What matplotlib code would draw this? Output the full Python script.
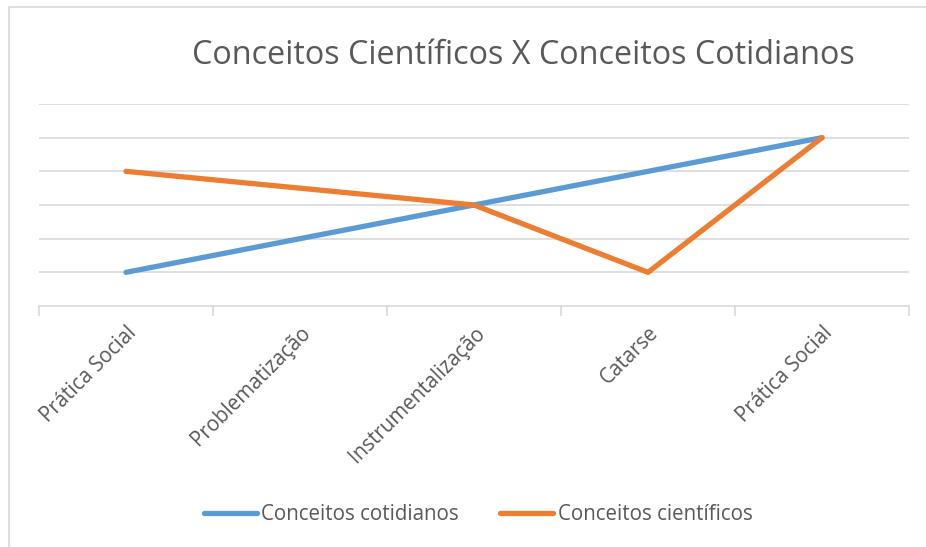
import matplotlib
matplotlib.use("Agg")
import matplotlib.pyplot as plt
from matplotlib.patches import Rectangle

categories = ["Prática Social", "Problematização", "Instrumentalização", "Catarse", "Prática Social"]
cotidianos = [1, 2, 3, 4, 5]
cientificos = [4, 3.5, 3, 1, 5]
series_names = ["Conceitos cotidianos", "Conceitos científicos"]
title = "Conceitos Científicos X Conceitos Cotidianos"

W, H = 926, 547
fig = plt.figure(figsize=(W / 100, H / 100), dpi=100)
plt.rcParams['font.family'] = ['Open Sans', 'DejaVu Sans']

# chart frame
fig.patches.append(Rectangle((9 / W, -0.1), 1.2, 1 - 7 / H + 0.1, transform=fig.transFigure,
                             fill=False, edgecolor="#d9d9d9", linewidth=1.2))

ax = fig.add_axes([39 / W, 1 - 306 / H, (909 - 39) / W, (306 - 104) / H])
x = list(range(len(categories)))
ax.plot(x, cotidianos, color="#5B9BD5", linewidth=3.8, solid_capstyle="round",
        solid_joinstyle="round", label=series_names[0], zorder=3)
ax.plot(x, cientificos, color="#ED7D31", linewidth=3.8, solid_capstyle="round",
        solid_joinstyle="round", label=series_names[1], zorder=3)

ax.set_xlim(-0.5, len(categories) - 0.5)
ax.set_ylim(0, 6)
for s in ["top", "right", "left"]:
    ax.spines[s].set_visible(False)
ax.spines["bottom"].set_color("#d9d9d9")
ax.spines["bottom"].set_linewidth(1.2)
ax.set_yticks([1, 2, 3, 4, 5, 6])
ax.set_yticklabels([])
ax.tick_params(axis="y", length=0)
ax.grid(axis="y", color="#d9d9d9", linewidth=1.2)
ax.set_axisbelow(True)

ax.set_xticks(x)
ax.set_xticklabels(categories, rotation=45, ha="right", rotation_mode="anchor",
                   fontsize=14.8, color="#595959")
ax.tick_params(axis="x", which="major", length=0, pad=12)
ax.set_xticks([i - 0.5 for i in range(len(categories) + 1)], minor=True)
ax.tick_params(axis="x", which="minor", length=7, color="#d9d9d9", width=1.2)

fig.text(523 / W, 1 - 55 / H, title, ha="center", va="center", fontsize=23.3, color="#595959")

leg = fig.legend(loc="center", bbox_to_anchor=(478 / W, 1 - 515 / H), ncol=2, frameon=False,
                 fontsize=14.8, handlelength=2.6, handletextpad=0.2, columnspacing=2.0)
for t in leg.get_texts():
    t.set_color("#595959")

fig.savefig("out.png", dpi=100)
